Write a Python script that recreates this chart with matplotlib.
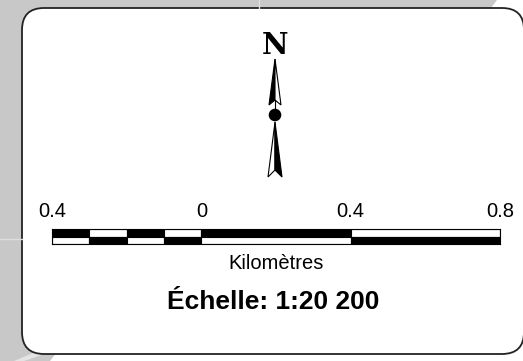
import matplotlib
matplotlib.use('Agg')
import matplotlib.pyplot as plt
from matplotlib.patches import FancyBboxPatch, Polygon, Circle

# scale bar data (km)
seg_edges = [-0.4, -0.3, -0.2, -0.1, 0.0, 0.4, 0.8]
top_black = [True, False, True, False, True, False]   # top row pattern
tick_km = [-0.4, 0.0, 0.4, 0.8]
tick_labels = ['0.4', '0', '0.4', '0.8']
unit_label = 'Kilomètres'
scale_title = 'Échelle: 1:20 200'

W, H = 523, 361
fig = plt.figure(figsize=(W / 100, H / 100), dpi=100)
fig.patch.set_facecolor('#c8c8c8')

# background / frame in pixel coordinates
bg = fig.add_axes([0, 0, 1, 1])
bg.set_xlim(0, W)
bg.set_ylim(H, 0)
bg.axis('off')

# light map remnants around the frame
bg.add_patch(Polygon([(497, 0), (W, 0), (W, 30), (488, 12)], closed=True,
                     facecolor='white', edgecolor='none'))
bg.add_patch(Polygon([(57, 352), (W, 340), (W, H), (50, H)], closed=True,
                     facecolor='white', edgecolor='none'))
bg.add_patch(Polygon([(14, H), (50, 346), (56, 350), (24, H)], closed=True,
                     facecolor='#e4e4e4', edgecolor='none'))
bg.plot([0, 22], [239, 239], color='#dedede', lw=1)
bg.plot([259, 259], [0, 8], color='#dedede', lw=1)

frame = FancyBboxPatch((22, 8), 524 - 22, 354 - 8,
                       boxstyle='round,pad=0,rounding_size=22',
                       facecolor='white', edgecolor='#222222', linewidth=1.3)
bg.add_patch(frame)

# north arrow
cx = 275
bg.text(cx, 45, 'N', ha='center', va='center', fontsize=21,
        fontweight='bold', family='DejaVu Serif')
bg.add_patch(Polygon([(cx, 59), (cx - 6, 105), (cx, 100)], closed=True,
                     facecolor='black', edgecolor='black', lw=0.8))
bg.add_patch(Polygon([(cx, 59), (cx, 100), (cx + 6, 105)], closed=True,
                     facecolor='white', edgecolor='black', lw=0.8))
bg.plot([cx, cx], [100, 112], color='black', lw=0.8)
bg.add_patch(Circle((cx, 115), 6.3, facecolor='black', edgecolor='none'))
bg.add_patch(Polygon([(cx, 122), (cx - 7, 177), (cx, 170)], closed=True,
                     facecolor='white', edgecolor='black', lw=0.8))
bg.add_patch(Polygon([(cx, 122), (cx, 170), (cx + 7, 177)], closed=True,
                     facecolor='black', edgecolor='black', lw=0.8))

# scale bar axes: -0.4 km at x=52 px, 0.8 km at x=500 px
ax = fig.add_axes([52 / W, 1 - 244 / H, 448 / W, 15 / H])
ax.set_xlim(seg_edges[0], seg_edges[-1])
ax.set_ylim(0, 2)
for i in range(len(seg_edges) - 1):
    left = seg_edges[i]
    width = seg_edges[i + 1] - seg_edges[i]
    c_top = 'black' if top_black[i] else 'white'
    c_bot = 'white' if top_black[i] else 'black'
    ax.barh(1.5, width, left=left, height=1, color=c_top,
            edgecolor='black', linewidth=0.8, align='center')
    ax.barh(0.5, width, left=left, height=1, color=c_bot,
            edgecolor='black', linewidth=0.8, align='center')
ax.set_yticks([])
ax.xaxis.tick_top()
ax.set_xticks(tick_km)
ax.set_xticklabels(tick_labels, fontsize=14.5, family='Liberation Sans')
ax.tick_params(axis='x', length=0, pad=6)
for s in ax.spines.values():
    s.set_linewidth(0.8)
ax.set_xlabel(unit_label, fontsize=14.5, family='Liberation Sans', labelpad=7)
ax.xaxis.set_label_position('bottom')

bg.text(273, 302, scale_title, ha='center', va='center', fontsize=19,
        fontweight='bold', family='Liberation Sans')

fig.savefig('out.png', dpi=100, facecolor=fig.get_facecolor())
